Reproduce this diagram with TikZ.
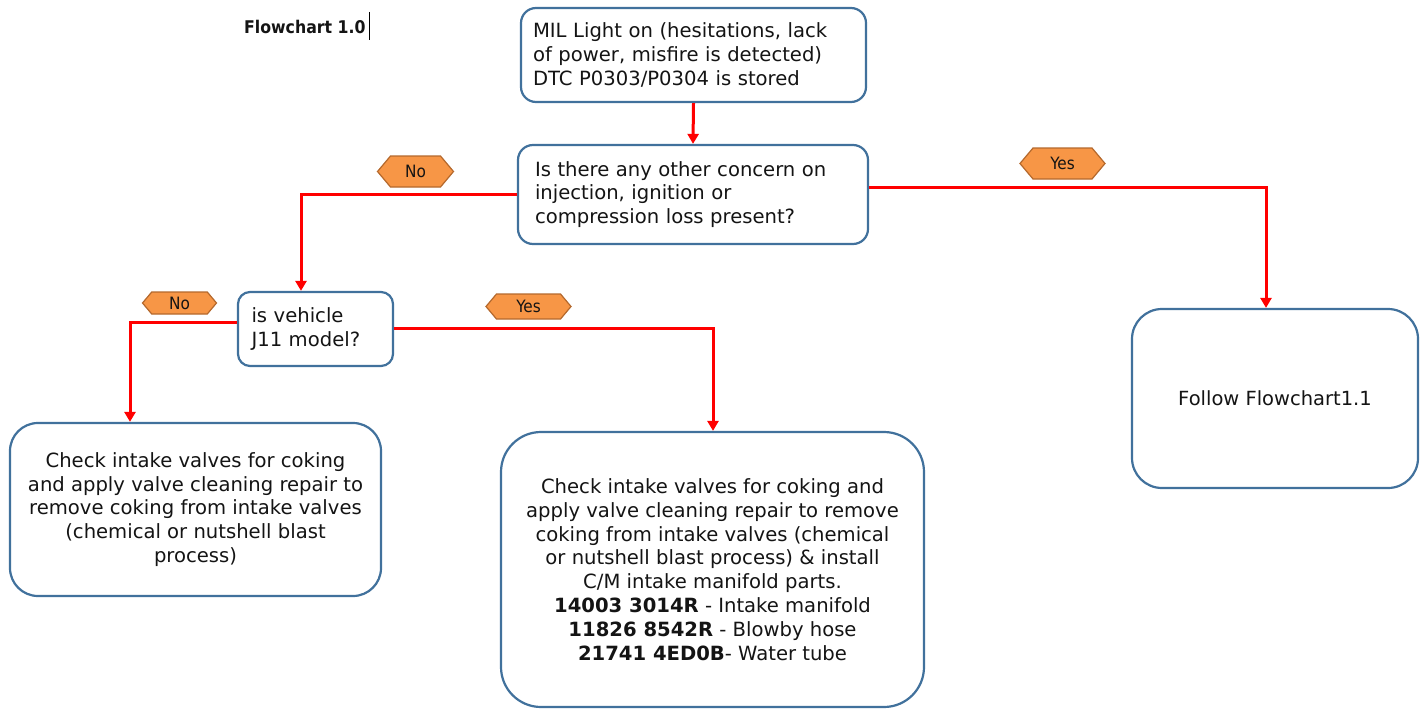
\documentclass[tikz,border=0pt]{standalone}
\usepackage{fontspec}
\setmainfont{DejaVu Sans}
\newfontfamily\condfont{DejaVu Sans Condensed}
\usetikzlibrary{arrows.meta,shapes.symbols}
\definecolor{boxblue}{HTML}{41719C}
\definecolor{hexfill}{HTML}{F79646}
\definecolor{hexdraw}{HTML}{B4682C}
\definecolor{txt}{HTML}{141414}
\tikzset{
  box/.style={draw=boxblue, line width=2.2pt, fill=white, rounded corners=#1, text=txt, inner sep=0pt,
     font=\fontsize{19.6}{23.8}\selectfont},
  box/.default=15pt,
  conn/.style={draw=red, line width=3pt, -{Triangle[length=10pt,width=11pt]}},
  hexlabel/.style={shape=signal, signal to=east and west, signal pointer angle=100,
     fill=hexfill, draw=hexdraw, line width=1.2pt, inner sep=0pt, text=txt,
     font=\condfont\fontsize{17}{17}\selectfont},
}
\begin{document}
\begin{tikzpicture}[x=1pt,y=-1pt]
\useasboundingbox (0,0) rectangle (1424,709);
% title
\node[font=\condfont\bfseries\fontsize{17.5}{18}\selectfont, text=txt, anchor=west, inner sep=0pt] (title) at (244,27) {Flowchart 1.0};
\draw[line width=0.8pt, black] (369,12) -- (369,40);
% boxes
\node[box, minimum width=345pt, minimum height=94pt, text width=321pt, align=left] (top) at (693.5,55)
  {MIL Light on (hesitations, lack\\ of power, misfire is detected)\\ DTC P0303/P0304 is stored};
\node[box, minimum width=350pt, minimum height=99pt, text width=316pt, align=left] (q1) at (693,194.5)
  {Is there any other concern on\\ injection, ignition or\\ compression loss present?};
\node[box=12pt, minimum width=155pt, minimum height=74pt, text width=128pt, align=left] (j11) at (315.5,329)
  {is vehicle\\ J11 model?};
\node[box=28pt, minimum width=371pt, minimum height=173pt, align=center] (left) at (195.5,509.5)
  {Check intake valves for coking\\ and apply valve cleaning repair to\\ remove coking from intake valves\\ (chemical or nutshell blast\\ process)};
\node[box=40pt, minimum width=423pt, minimum height=275pt, align=center] (mid) at (712.5,569.5)
  {Check intake valves for coking and\\ apply valve cleaning repair to remove\\ coking from intake valves (chemical\\ or nutshell blast process) \& install\\ C/M intake manifold parts.\\
   \textbf{14003 3014R} - Intake manifold\\ \textbf{11826 8542R} - Blowby hose\\ \textbf{21741 4ED0B}- Water tube};
\node[box=30pt, minimum width=286pt, minimum height=179pt, align=center, font=\fontsize{19.5}{22}\selectfont] (right) at (1275,398.5)
  {Follow Flowchart1.1};
% connectors
\draw[conn] (top.south) -- (q1.north);
\draw[conn] (q1.west) -| ([xshift=-14.5pt]j11.north);
\draw[conn] ([yshift=7.5pt]q1.east) -| ([xshift=-9pt]right.north);
\draw[conn] ([yshift=7pt]j11.west) -| ([xshift=-65.5pt]left.north);
\draw[conn] ([yshift=1pt]j11.east) -| ([xshift=0.5pt]mid.north);
% labels
\node[hexlabel, minimum width=76pt, minimum height=31pt] (no1) at (415.5,171.5) {No};
\node[hexlabel, minimum width=85pt, minimum height=31pt] (yes1) at (1062.5,163.5) {Yes};
\node[hexlabel, minimum width=74pt, minimum height=22pt] (no2) at (179.5,303) {No};
\node[hexlabel, minimum width=85pt, minimum height=25pt] (yes2) at (528.5,306.5) {Yes};
\end{tikzpicture}
\end{document}
